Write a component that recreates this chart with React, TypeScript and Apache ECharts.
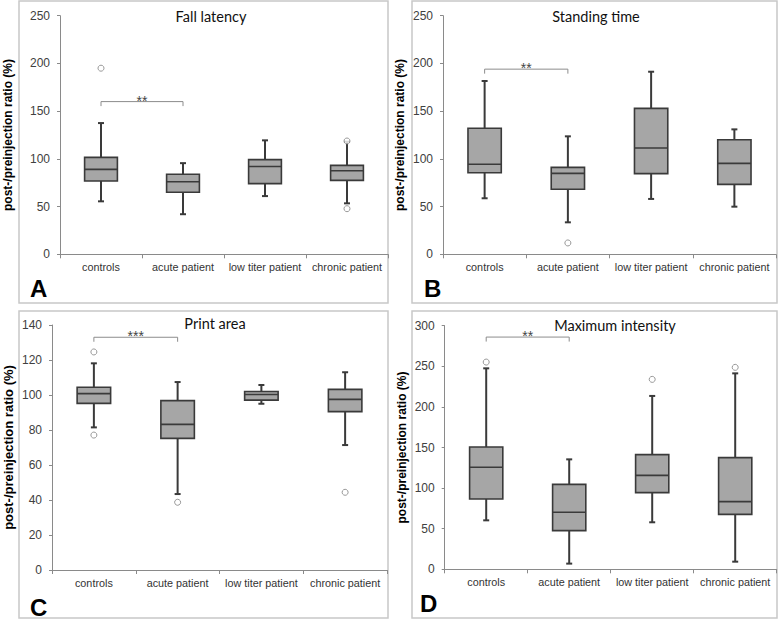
import React, { useEffect, useRef } from 'react';
import * as echarts from 'echarts';

const categories = ['controls', 'acute patient', 'low titer patient', 'chronic patient'];

// each box: [min, Q1, median, Q3, max]
const fallLatencyBoxes = [
  [55.5, 76.8, 89, 101.6, 137.5],
  [42, 65, 76, 83.8, 95.5],
  [61, 74, 92, 99.2, 119.4],
  [53.4, 77.5, 87.6, 93.2, 118],
];
const fallLatencyOutliers = [[0, 195], [3, 118.7], [3, 47.8]];
const fallLatencyBracket = [0, 1, 160];

const standingTimeBoxes = [
  [58.7, 85.5, 94.3, 132, 181.6],
  [33.5, 68.1, 84.8, 91.1, 123.6],
  [58, 84.5, 111.4, 152.9, 191.3],
  [49.9, 73.3, 95.3, 120.1, 130.9],
];
const standingTimeOutliers = [[1, 11.9]];
const standingTimeBracket = [0, 1, 194];

const printAreaBoxes = [
  [81.5, 95.2, 100.8, 104.4, 118.1],
  [43.4, 75.2, 83.2, 96.8, 107.4],
  [95, 97.1, 100.3, 102, 105.7],
  [71.4, 90.5, 97.5, 103.2, 113],
];
const printAreaOutliers = [[0, 124.6], [0, 77.1], [1, 38.7], [3, 44.4]];
const printAreaBracket = [0, 1, 133];

const maxIntensityBoxes = [
  [60.3, 86.6, 125.6, 150.6, 247.5],
  [7, 47.6, 70.2, 104.6, 135.4],
  [57.9, 94.4, 115.7, 141.2, 213.5],
  [9.4, 67.7, 83.3, 137.5, 241.3],
];
const maxIntensityOutliers = [[0, 255.2], [2, 233.9], [3, 248.7]];
const maxIntensityBracket = [0, 1, 286];

const titles = ['Fall latency', 'Standing time', 'Print area', 'Maximum intensity'];
const letters = ['A', 'B', 'C', 'D'];
const stars = ['**', '**', '***', '**'];
const yMax = [250, 250, 140, 300];
const yInterval = [50, 50, 20, 50];
const yName = 'post-/preinjection ratio (%)';

const boxesList = [fallLatencyBoxes, standingTimeBoxes, printAreaBoxes, maxIntensityBoxes];
const outliersList = [fallLatencyOutliers, standingTimeOutliers, printAreaOutliers, maxIntensityOutliers];
const bracketList = [fallLatencyBracket, standingTimeBracket, printAreaBracket, maxIntensityBracket];

// layout (pixels)
const grids = [
  { left: 60, top: 15.7, width: 328, height: 238.6 },
  { left: 443, top: 15.7, width: 333, height: 238.6 },
  { left: 52, top: 325, width: 335, height: 245 },
  { left: 444.7, top: 325.7, width: 332, height: 243.6 },
];
const nameGaps = [46, 37, 37, 37];
const nameSizes = [12, 12, 13, 12];
const frames = [
  { x: 19, y: 1, width: 369, height: 302 },
  { x: 412, y: 1, width: 365, height: 302 },
  { x: 19, y: 311, width: 369, height: 307 },
  { x: 412, y: 311, width: 365, height: 307 },
];
const titlePos = [
  [211, 16],
  [596, 16.5],
  [215, 323.5],
  [615, 325.5],
];
const letterPos = [
  [30, 288],
  [424, 288],
  [30, 607],
  [420, 603],
];

const FONT = '"Liberation Sans", Arial, sans-serif';
const DARK = '#3a3a3a';
const AXIS = '#8a8a8a';

export default function App() {
  const ref = useRef<HTMLDivElement>(null);
  useEffect(() => {
    if (!ref.current) return;
    const chart = echarts.init(ref.current, null, { renderer: 'svg' });

    const boxRender = (params: any, api: any) => {
      const x = api.value(0);
      const lo = api.coord([x, api.value(1)]);
      const q1 = api.coord([x, api.value(2)]);
      const med = api.coord([x, api.value(3)]);
      const q3 = api.coord([x, api.value(4)]);
      const hi = api.coord([x, api.value(5)]);
      const bw = api.size([1, 0])[0] * 0.4;
      const cx = lo[0];
      const cap = 3;
      const ls = { stroke: DARK, lineWidth: 2 };
      return {
        type: 'group',
        children: [
          { type: 'line', shape: { x1: cx, y1: hi[1], x2: cx, y2: q3[1] }, style: ls },
          { type: 'line', shape: { x1: cx, y1: q1[1], x2: cx, y2: lo[1] }, style: ls },
          { type: 'line', shape: { x1: cx - cap, y1: hi[1], x2: cx + cap, y2: hi[1] }, style: ls },
          { type: 'line', shape: { x1: cx - cap, y1: lo[1], x2: cx + cap, y2: lo[1] }, style: ls },
          {
            type: 'rect',
            shape: { x: cx - bw / 2, y: q3[1], width: bw, height: q1[1] - q3[1] },
            style: { fill: '#a6a6a6', stroke: DARK, lineWidth: 1.6 },
          },
          { type: 'line', shape: { x1: cx - bw / 2, y1: med[1], x2: cx + bw / 2, y2: med[1] }, style: { stroke: DARK, lineWidth: 1.6 } },
        ],
      };
    };

    const bracketRender = (starText: string) => (params: any, api: any) => {
      const y = api.value(2);
      const p1 = api.coord([api.value(0), y]);
      const p2 = api.coord([api.value(1), y]);
      const drop = 4.5;
      return {
        type: 'group',
        children: [
          {
            type: 'polyline',
            shape: { points: [[p1[0], p1[1] + drop], [p1[0], p1[1]], [p2[0], p2[1]], [p2[0], p2[1] + drop]] },
            style: { stroke: '#8c8c8c', lineWidth: 1, fill: 'none' },
          },
          {
            type: 'text',
            x: (p1[0] + p2[0]) / 2,
            y: p1[1] - 1,
            style: { text: starText, fill: '#444', font: '14px ' + FONT, textAlign: 'center', textVerticalAlign: 'middle' },
          },
        ],
      };
    };

    const series: any[] = [];
    const graphic: any[] = [];
    for (let i = 0; i < 4; i++) {
      series.push({
        type: 'custom',
        xAxisIndex: i,
        yAxisIndex: i,
        renderItem: boxRender,
        encode: { x: 0, y: [1, 2, 3, 4, 5] },
        data: boxesList[i].map((b, k) => [k, ...b]),
        z: 2,
      });
      series.push({
        type: 'scatter',
        xAxisIndex: i,
        yAxisIndex: i,
        data: outliersList[i],
        symbol: 'circle',
        symbolSize: 6,
        itemStyle: { color: '#ffffff', borderColor: '#808080', borderWidth: 1 },
        z: 3,
      });
      series.push({
        type: 'custom',
        xAxisIndex: i,
        yAxisIndex: i,
        renderItem: bracketRender(stars[i]),
        encode: { x: [0, 1], y: 2 },
        data: [bracketList[i]],
        z: 2,
      });
      graphic.push({
        type: 'rect',
        shape: frames[i],
        style: { fill: 'none', stroke: '#c8c8c8', lineWidth: 1.5 },
        z: 0,
      });
      graphic.push({
        type: 'text',
        x: titlePos[i][0],
        y: titlePos[i][1],
        style: { text: titles[i], font: '14.5px Lato, "Open Sans", sans-serif', fill: '#111', textAlign: 'center', textVerticalAlign: 'middle' },
      });
      graphic.push({
        type: 'text',
        x: letterPos[i][0],
        y: letterPos[i][1],
        style: { text: letters[i], font: 'bold 24px ' + FONT, fill: '#000', textAlign: 'left', textVerticalAlign: 'middle' },
      });
    }

    chart.setOption({
      animation: false,
      backgroundColor: '#fff',
      grid: grids.map((g) => ({ ...g, containLabel: false })),
      xAxis: grids.map((g, i) => ({
        gridIndex: i,
        type: 'category',
        data: categories,
        boundaryGap: true,
        axisLine: { show: true, lineStyle: { color: AXIS, width: 1 } },
        axisTick: { show: true, length: 4, alignWithLabel: false, lineStyle: { color: AXIS } },
        axisLabel: { interval: 0, fontFamily: FONT, fontSize: 10.8, color: '#333', margin: 7 },
        splitLine: { show: false },
      })),
      yAxis: grids.map((g, i) => ({
        gridIndex: i,
        type: 'value',
        min: 0,
        max: yMax[i],
        interval: yInterval[i],
        axisLine: { show: true, lineStyle: { color: AXIS, width: 1 } },
        axisTick: { show: true, length: 3, lineStyle: { color: AXIS } },
        splitLine: { show: false },
        axisLabel: { fontFamily: FONT, fontSize: 12, color: '#404040', margin: 10 },
        name: yName,
        nameLocation: 'middle',
        nameGap: nameGaps[i],
        nameTextStyle: { fontFamily: FONT, fontSize: nameSizes[i], fontWeight: 'bold', color: '#000' },
      })),
      series,
      graphic,
    });
    return () => chart.dispose();
  }, []);
  return <div ref={ref} style={{ position: 'fixed', left: 0, top: 0, width: 778, height: 621 }} />;
}
